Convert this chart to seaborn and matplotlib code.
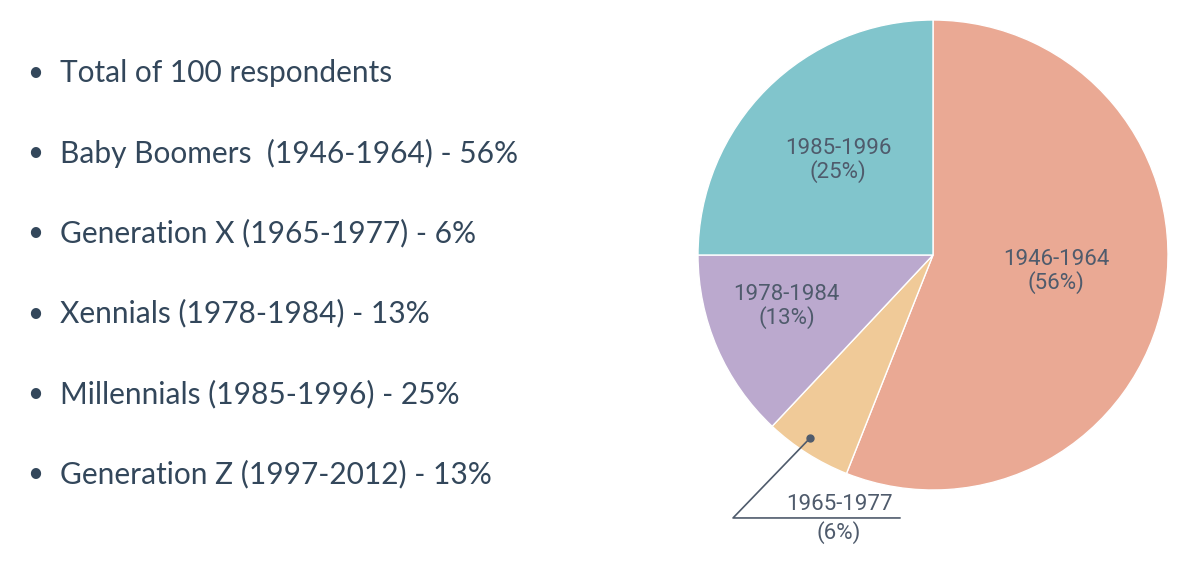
import numpy as np
import matplotlib.pyplot as plt
import seaborn as sns

# data
generations = ['1946-1964', '1965-1977', '1978-1984', '1985-1996']
shares = [56, 6, 13, 25]
slice_colors = ['#EAA994', '#F0CA98', '#BBA9CE', '#81C5CC']
label_radius = [0.53, None, 0.66, 0.57]
label_shift = [3, 0, -4, 0]  # degrees, nudges label along the arc

bullets = [
    'Total of 100 respondents',
    'Baby Boomers  (1946-1964) - 56%',
    'Generation X (1965-1977) - 6%',
    'Xennials (1978-1984) - 13%',
    'Millennials (1985-1996) - 25%',
    'Generation Z (1997-2012) - 13%',
]

sns.set_theme(style='white')
plt.rcParams['font.family'] = ['Lato', 'DejaVu Sans']

fig = plt.figure(figsize=(12, 5.75), dpi=100)

# bullet list on the left
text_color = '#33475B'
for i, line in enumerate(bullets):
    y = 1 - (73 + i * 80.2) / 575
    fig.text(0.029, y, '\u2022', fontsize=20, color=text_color, va='center', ha='center')
    fig.text(0.05, y, line, fontsize=21.5, color=text_color, va='center', ha='left')

# pie on the right
ax = fig.add_axes([(933 - 235) / 1200, (575 - 255 - 235) / 575, 470 / 1200, 470 / 575])
wedges, _ = ax.pie(shares, colors=slice_colors, startangle=90, counterclock=False,
                   wedgeprops=dict(linewidth=1, edgecolor='white'))
ax.set_xlim(-1, 1)
ax.set_ylim(-1, 1)
ax.set_aspect('equal')
ax.axis('off')

label_color = '#4F5B6C'
pie_font = ['Roboto', 'DejaVu Sans']
for w, name, pct, r, shift in zip(wedges, generations, shares, label_radius, label_shift):
    mid = np.deg2rad((w.theta1 + w.theta2) / 2 + shift)
    if r is not None:
        ax.text(r * np.cos(mid), r * np.sin(mid), f'{name}\n({pct}%)', ha='center', va='center',
                fontsize=16, color=label_color, family=pie_font, linespacing=1.05,
                fontweight='normal')
    else:
        # small slice: leader line to a label below the pie
        mid = np.deg2rad((w.theta1 + w.theta2) / 2 - 1.5)
        dx, dy = 0.94 * np.cos(mid), 0.94 * np.sin(mid)
        ax.plot(dx, dy, 'o', color=label_color, markersize=5, clip_on=False)
        ax.plot([dx, -0.851, -0.14], [dy, -1.119, -1.119], color=label_color, lw=1.2, clip_on=False)
        ax.text(-0.40, -1.108, name, ha='center', va='bottom', fontsize=16, color=label_color,
                family=pie_font, fontweight='normal')
        ax.text(-0.40, -1.132, f'({pct}%)', ha='center', va='top', fontsize=16, color=label_color,
                family=pie_font, fontweight='normal')

fig.savefig('out.png', dpi=100, facecolor='white')
